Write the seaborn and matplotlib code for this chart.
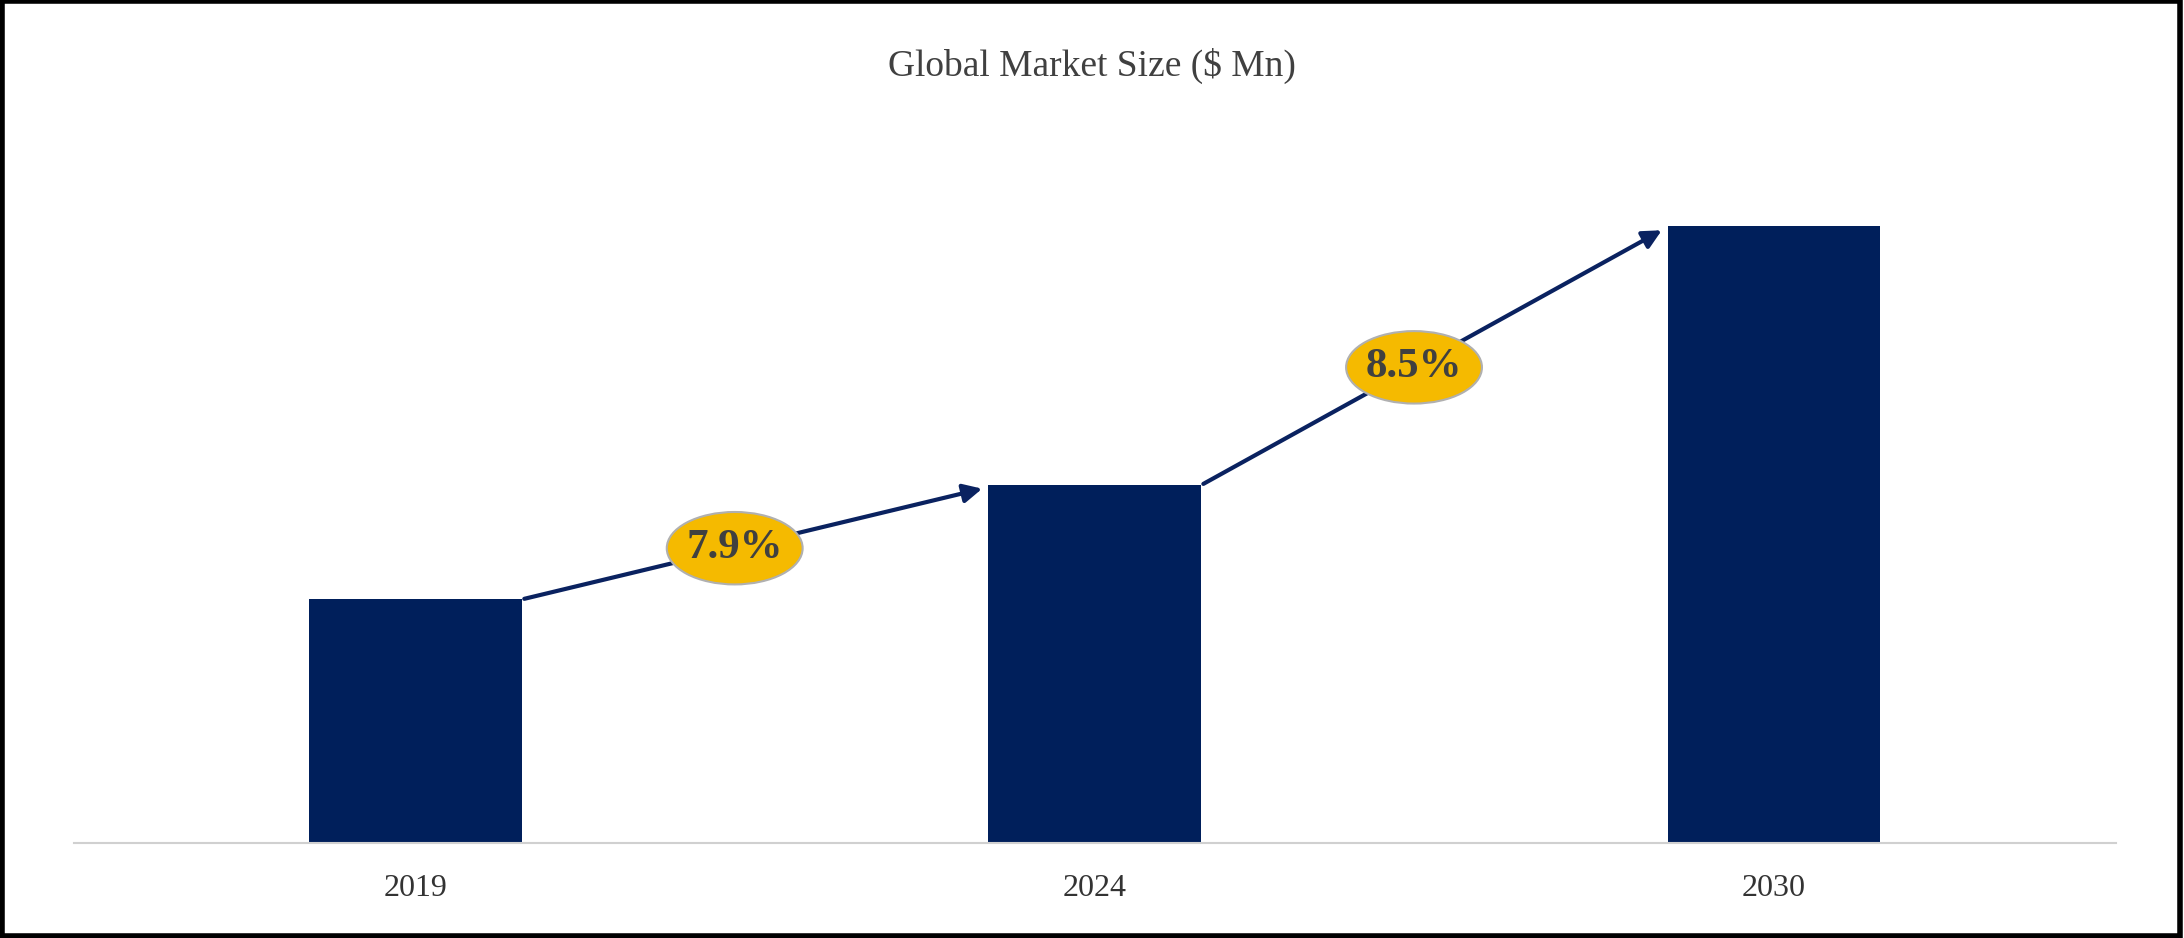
import matplotlib
matplotlib.use('Agg')
import matplotlib.pyplot as plt
import seaborn as sns
import pandas as pd
from matplotlib.patches import Ellipse, Rectangle

# Data (relative market size, no axis shown)
years = ['2019', '2024', '2030']
market_size = [175, 257, 443]
cagr_labels = ['7.9%', '8.5%']

df = pd.DataFrame({'Year': years, 'Size': market_size})

plt.rcParams['font.family'] = 'Liberation Serif'
fig = plt.figure(figsize=(21.84, 9.38), dpi=100)
ax = fig.add_axes([0.034, 0.101, 0.935, 0.75])

bar_w = 0.313
sns.barplot(data=df, x='Year', y='Size', color='#001F5B', width=bar_w, saturation=1, ax=ax)

ax.set_xlim(-0.502, 2.504)
ax.set_ylim(0, 505)
for s in ['top', 'right', 'left']:
    ax.spines[s].set_visible(False)
ax.spines['bottom'].set_color('#D0D0D0')
ax.spines['bottom'].set_linewidth(1.5)
ax.set_yticks([])
ax.set_xlabel('')
ax.set_ylabel('')
ax.tick_params(axis='x', length=0, labelsize=23, colors='#333333', pad=22)

# CAGR arrows between bars
for i, lab in enumerate(cagr_labels):
    x0, y0 = i + bar_w / 2, market_size[i]
    x1, y1 = i + 1 - bar_w / 2 - 0.005, market_size[i + 1] - 2
    ax.annotate('', xy=(x1, y1), xytext=(x0, y0),
                arrowprops=dict(arrowstyle='-|>', color='#0A2260', lw=3, mutation_scale=28))
    f = 0.46
    mx, my = x0 + f * (x1 - x0), y0 + f * (y1 - y0)
    ax.add_patch(Ellipse((mx, my), 0.2, 52, facecolor='#F5BA00', edgecolor='#B0B0B0',
                         lw=1.5, zorder=5))
    ax.text(mx, my, lab, ha='center', va='center', fontsize=31, color='#404040',
            fontweight='bold', zorder=6)

fig.text(0.5, 0.93, 'Global Market Size ($ Mn)', ha='center', va='center',
         fontsize=27, color='#404040')

# outer frame
fig.patches.append(Rectangle((0.001, 0.002), 0.997, 0.997, transform=fig.transFigure,
                             fill=False, edgecolor='black', lw=4))

plt.savefig('out.png', dpi=100)
